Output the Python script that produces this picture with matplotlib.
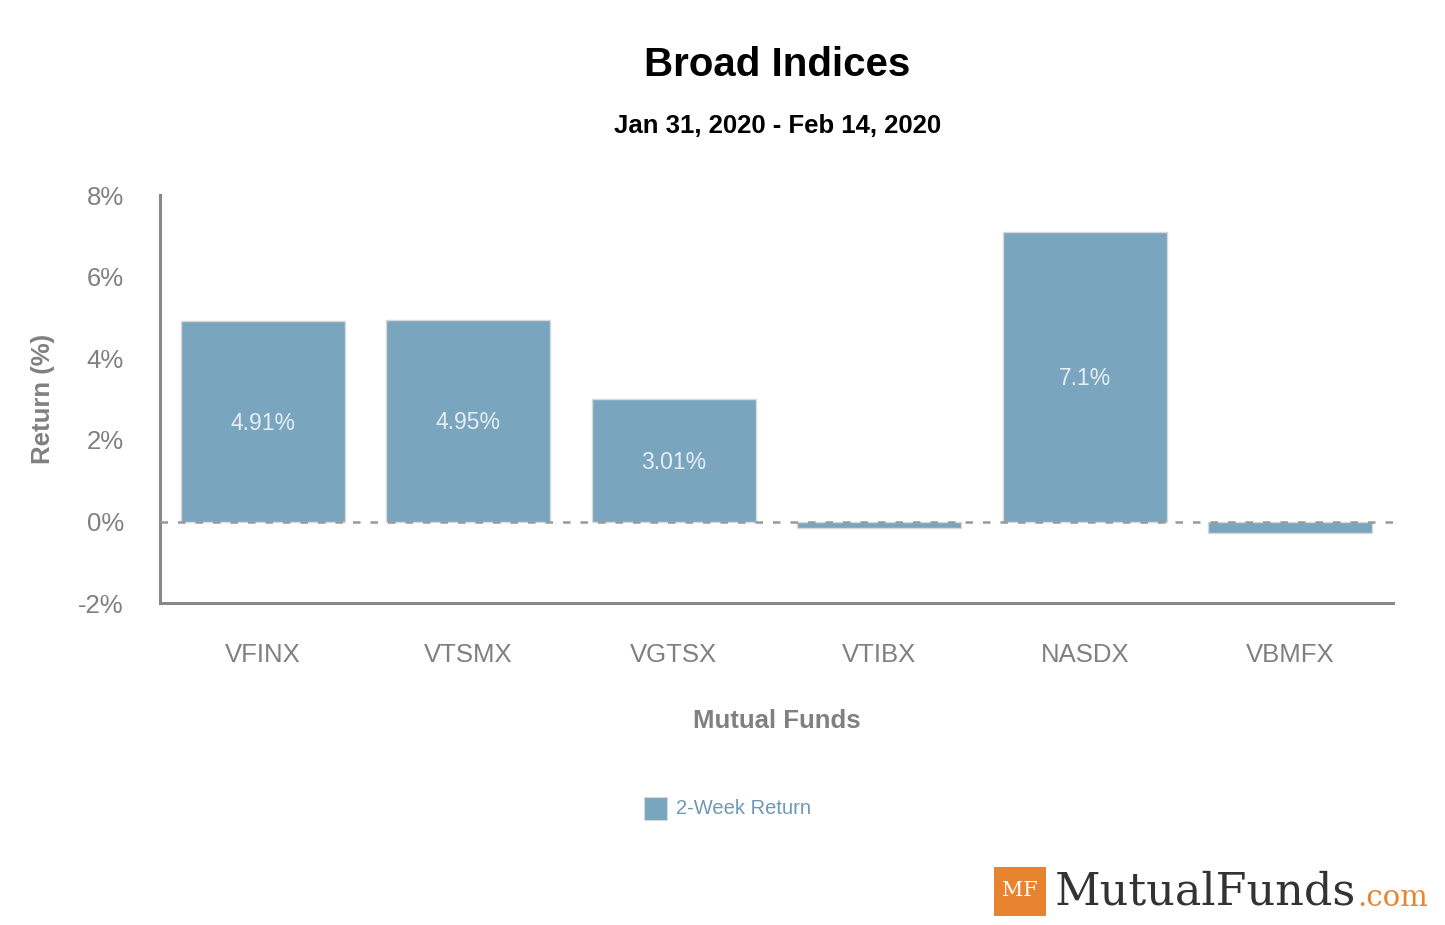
import matplotlib
matplotlib.use("Agg")
import matplotlib.pyplot as plt
from matplotlib.patches import Rectangle

# Datos
funds = ["VFINX", "VTSMX", "VGTSX", "VTIBX", "NASDX", "VBMFX"]
returns = [4.91, 4.95, 3.01, -0.15, 7.1, -0.29]
bar_labels = ["4.91%", "4.95%", "3.01%", "", "7.1%", ""]
y_ticks = [-2, 0, 2, 4, 6, 8]

plt.rcParams["font.family"] = ["Liberation Sans", "DejaVu Sans"]
bar_color = "#79a5bf"
gray = "#808080"

fig = plt.figure(figsize=(14.45, 9.25), dpi=100)
ax = fig.add_axes([0.1107, 0.348, 0.8533, 0.441])

x = list(range(len(funds)))
bars = ax.bar(x, returns, width=0.8, color=bar_color, edgecolor="#d8d8d8", linewidth=1, zorder=2)
for rect, lab in zip(bars, bar_labels):
    if lab:
        ax.text(rect.get_x() + rect.get_width() / 2, rect.get_height() / 2 - 0.05, lab,
                ha="center", va="center", color="#e8eef3", fontsize=16.5, zorder=3)

ax.axhline(0, color="#999999", linestyle=(0, (3, 4)), linewidth=1.8, zorder=4)

ax.set_xlim(-0.5, 5.5)
ax.set_ylim(-2, 8)
ax.set_yticks(y_ticks)
ax.set_yticklabels([f"{v}%" for v in y_ticks])
ax.set_xticks(x)
ax.set_xticklabels(funds)
ax.tick_params(axis="both", length=0, labelsize=18.5, labelcolor=gray)
ax.tick_params(axis="x", pad=29)
ax.tick_params(axis="y", pad=26)

for s in ["top", "right"]:
    ax.spines[s].set_visible(False)
for s in ["left", "bottom"]:
    ax.spines[s].set_color("#888888")
    ax.spines[s].set_linewidth(2.2)

ax.set_xlabel("Mutual Funds", fontsize=18.5, fontweight="bold", color=gray, labelpad=30)
ax.set_ylabel("Return (%)", fontsize=18.5, fontweight="bold", color=gray, labelpad=17)

fig.text(0.538, 0.930, "Broad Indices", ha="center", va="center", fontsize=29, fontweight="bold")
fig.text(0.538, 0.864, "Jan 31, 2020 - Feb 14, 2020", ha="center", va="center", fontsize=18.5, fontweight="bold")

# Leyenda
fig.patches.append(Rectangle((0.446, 0.114), 0.0155, 0.024, transform=fig.transFigure,
                             facecolor=bar_color, edgecolor="#d8d8d8", linewidth=0.8))
fig.text(0.468, 0.126, "2-Week Return", ha="left", va="center", fontsize=14.5, color="#6f98b3")

# Logo
fig.patches.append(Rectangle((0.688, 0.010), 0.036, 0.053, transform=fig.transFigure,
                             facecolor="#e8842f", edgecolor="none"))
fig.text(0.706, 0.037, "MF", ha="center", va="center", fontsize=15, color="white",
         family="DejaVu Serif")
fig.text(0.730, 0.036, "MutualFunds", ha="left", va="center", fontsize=32, color="#333333",
         family="DejaVu Serif")
fig.text(0.939, 0.029, ".com", ha="left", va="center", fontsize=21, color="#e8842f",
         family="DejaVu Serif")

fig.savefig("out.png", dpi=100)
